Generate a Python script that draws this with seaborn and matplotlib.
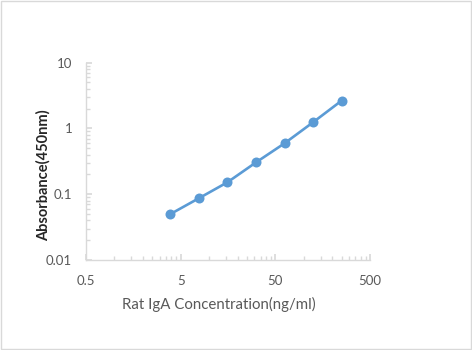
import matplotlib
matplotlib.use("Agg")
import matplotlib.pyplot as plt
import matplotlib.ticker as mticker
import seaborn as sns
import pandas as pd
import numpy as np

concentration = [3.9, 7.8, 15.6, 31.25, 62.5, 125, 250]
absorbance = [0.050, 0.087, 0.152, 0.305, 0.594, 1.24, 2.64]
x_ticks = [0.5, 5, 50, 500]
x_ticklabels = ["0.5", "5", "50", "500"]
y_ticks = [0.01, 0.1, 1, 10]
y_ticklabels = ["0.01", "0.1", "1", "10"]

df = pd.DataFrame({"conc": concentration, "abs": absorbance})

sns.set_theme(style="white")
plt.rcParams["font.family"] = ["Lato", "DejaVu Sans"]

fig = plt.figure(figsize=(4.72, 3.5), dpi=100)
ax = fig.add_axes([86/472, 90/350, 284/472, 197.3/350])

blue = "#5B9BD5"
sns.lineplot(data=df, x="conc", y="abs", ax=ax, color=blue, linewidth=1.9,
             marker="o", markersize=7.2, markeredgewidth=0, markerfacecolor=blue)

ax.set_xscale("log")
ax.set_yscale("log")
ax.set_xlim(0.5, 500)
ax.set_ylim(0.01, 10)

ax.xaxis.set_major_locator(mticker.FixedLocator(x_ticks))
ax.xaxis.set_major_formatter(mticker.FixedFormatter(x_ticklabels))
ax.yaxis.set_major_locator(mticker.FixedLocator(y_ticks))
ax.yaxis.set_major_formatter(mticker.FixedFormatter(y_ticklabels))

xminor = []
for d in [0.5, 5, 50]:
    xminor += [d * k for k in range(2, 10)]
ax.xaxis.set_minor_locator(mticker.FixedLocator(xminor))
ax.xaxis.set_minor_formatter(mticker.NullFormatter())
ax.yaxis.set_minor_locator(mticker.LogLocator(base=10, subs=np.arange(2, 10)))
ax.yaxis.set_minor_formatter(mticker.NullFormatter())

grey = "#D9D9D9"
for s in ["top", "right"]:
    ax.spines[s].set_visible(False)
for s in ["left", "bottom"]:
    ax.spines[s].set_color(grey)
    ax.spines[s].set_linewidth(1.0)

ax.tick_params(axis="both", which="major", direction="in", length=4, color=grey,
               labelsize=9.5, labelcolor="#595959", pad=10, bottom=True, left=True)
ax.tick_params(axis="both", which="minor", direction="in", length=3, color=grey,
               bottom=True, left=True)
ax.tick_params(axis="x", which="major", pad=11)

ax.set_xlabel("Rat IgA Concentration(ng/ml)", fontsize=10.8, color="#595959")
ax.set_ylabel("Absorbance(450nm)", fontsize=10.5, color="#262626", fontweight="bold")
ax.xaxis.set_label_coords(0.468, -0.225)
ax.yaxis.set_label_coords(-0.151, 0.428)
ax.xaxis.label.set_va("center")
ax.yaxis.label.set_va("center")

border = plt.Rectangle((0.002, 0.003), 0.995, 0.994, transform=fig.transFigure,
                       fill=False, edgecolor="#D9D9D9", linewidth=1.0)
fig.patches.append(border)

fig.savefig("out.png", dpi=100, facecolor="white")
